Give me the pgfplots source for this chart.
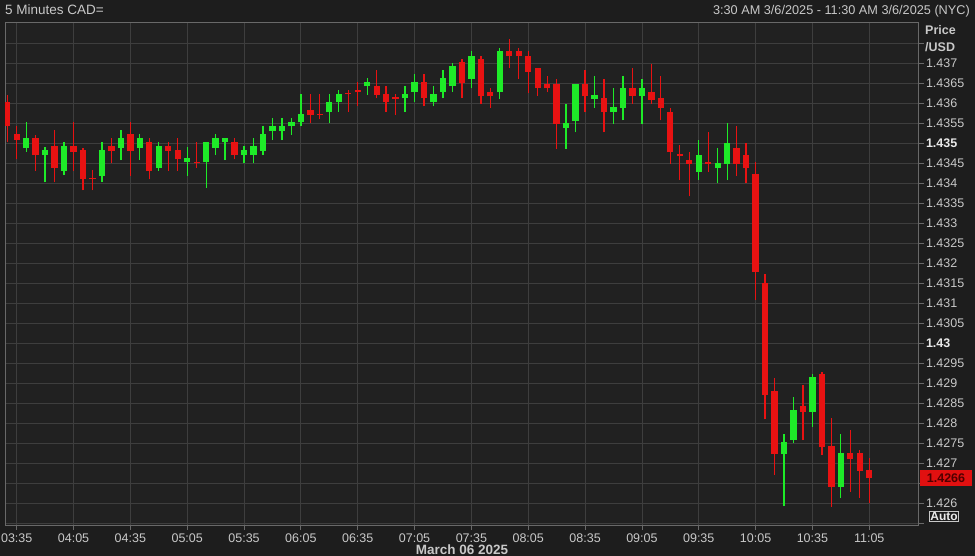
\documentclass[border=0pt]{standalone}
\usepackage{pgfplots}
\pgfplotsset{compat=1.18}
\usepackage{pgfplotstable}
\usepackage{fontspec}
\setmainfont{Liberation Sans}
\definecolor{bgc}{RGB}{29,29,29}
\definecolor{plotbg}{RGB}{33,33,33}
\definecolor{gridc}{RGB}{62,62,62}
\definecolor{framec}{RGB}{105,105,105}
\definecolor{txt}{RGB}{200,200,200}
\definecolor{txtb}{RGB}{235,235,235}
\definecolor{cup}{RGB}{30,235,40}
\definecolor{cdn}{RGB}{232,18,18}
\definecolor{lastbox}{RGB}{225,16,16}
\definecolor{lasttxt}{RGB}{80,0,0}

% i  O  H  L  C
\pgfplotstableread{
i O H L C
2 1.43488 1.43552 1.43479 1.43512
4 1.43471 1.43490 1.43402 1.43483
6 1.43431 1.43502 1.43421 1.43492
10 1.43418 1.43504 1.43402 1.43483
12 1.43488 1.43533 1.43458 1.43512
14 1.43489 1.43522 1.43458 1.43512
16 1.43439 1.43502 1.43431 1.43492
19 1.43452 1.43490 1.43418 1.43463
21 1.43452 1.43502 1.43389 1.43502
22 1.43489 1.43522 1.43471 1.43512
23 1.43502 1.43512 1.43458 1.43512
25 1.43471 1.43492 1.43450 1.43483
26 1.43471 1.43512 1.43450 1.43492
27 1.43481 1.43543 1.43471 1.43523
28 1.43531 1.43562 1.43508 1.43543
29 1.43531 1.43562 1.43508 1.43543
30 1.43542 1.43562 1.43521 1.43552
31 1.43552 1.43623 1.43542 1.43573
34 1.43579 1.43623 1.43550 1.43602
35 1.43602 1.43632 1.43579 1.43623
38 1.43642 1.43662 1.43621 1.43652
42 1.43612 1.43643 1.43579 1.43623
43 1.43629 1.43673 1.43602 1.43652
45 1.43602 1.43643 1.43592 1.43623
46 1.43629 1.43683 1.43612 1.43662
47 1.43642 1.43700 1.43629 1.43692
49 1.43660 1.43731 1.43637 1.43718
52 1.43627 1.43739 1.43610 1.43731
59 1.43538 1.43598 1.43486 1.43550
60 1.43556 1.43648 1.43527 1.43648
62 1.43610 1.43668 1.43589 1.43620
64 1.43577 1.43639 1.43548 1.43591
65 1.43589 1.43668 1.43557 1.43639
67 1.43618 1.43660 1.43548 1.43639
73 1.43428 1.43508 1.43408 1.43470
75 1.43437 1.43488 1.43400 1.43450
76 1.43449 1.43550 1.43408 1.43500
82 1.42723 1.42773 1.42593 1.42754
83 1.42758 1.42865 1.42752 1.42833
85 1.42829 1.42923 1.42792 1.42915
88 1.42642 1.42773 1.42613 1.42725
}\upcandles

\pgfplotstableread{
i O H L C
0 1.43603 1.43621 1.43502 1.43542
1 1.43523 1.43543 1.43460 1.43508
3 1.43512 1.43521 1.43431 1.43471
5 1.43492 1.43533 1.43402 1.43439
7 1.43492 1.43552 1.43431 1.43479
8 1.43483 1.43488 1.43382 1.43410
9 1.43414 1.43433 1.43382 1.43410
11 1.43492 1.43512 1.43450 1.43481
13 1.43523 1.43552 1.43418 1.43481
15 1.43503 1.43512 1.43410 1.43431
17 1.43492 1.43502 1.43431 1.43481
18 1.43483 1.43512 1.43431 1.43460
20 1.43454 1.43502 1.43439 1.43450
24 1.43503 1.43512 1.43460 1.43471
32 1.43583 1.43623 1.43550 1.43571
33 1.43574 1.43623 1.43560 1.43570
36 1.43626 1.43632 1.43579 1.43622
37 1.43632 1.43654 1.43592 1.43628
39 1.43642 1.43683 1.43612 1.43621
40 1.43623 1.43643 1.43579 1.43602
41 1.43615 1.43623 1.43571 1.43611
44 1.43652 1.43673 1.43592 1.43612
48 1.43702 1.43710 1.43612 1.43650
50 1.43710 1.43718 1.43598 1.43617
51 1.43628 1.43639 1.43589 1.43617
53 1.43731 1.43760 1.43687 1.43717
54 1.43731 1.43739 1.43660 1.43717
55 1.43718 1.43731 1.43625 1.43678
56 1.43689 1.43689 1.43618 1.43639
57 1.43647 1.43668 1.43627 1.43637
58 1.43647 1.43660 1.43485 1.43548
61 1.43647 1.43683 1.43577 1.43617
63 1.43612 1.43660 1.43527 1.43577
66 1.43639 1.43689 1.43598 1.43618
68 1.43628 1.43698 1.43598 1.43608
69 1.43612 1.43668 1.43557 1.43589
70 1.43578 1.43589 1.43449 1.43478
71 1.43473 1.43495 1.43408 1.43469
72 1.43458 1.43478 1.43367 1.43448
74 1.43453 1.43529 1.43428 1.43449
77 1.43488 1.43542 1.43418 1.43449
78 1.43471 1.43500 1.43400 1.43437
79 1.43423 1.43452 1.43108 1.43179
80 1.43152 1.43173 1.42810 1.42871
81 1.42882 1.42914 1.42671 1.42723
84 1.42844 1.42896 1.42758 1.42829
86 1.42923 1.42929 1.42721 1.42740
87 1.42743 1.42813 1.42592 1.42642
89 1.42725 1.42783 1.42629 1.42710
90 1.42725 1.42733 1.42613 1.42682
91 1.42683 1.42713 1.42600 1.42663
}\downcandles

\begin{document}
\begin{tikzpicture}
\fill[bgc] (0,0) rectangle (975bp,556bp);
\begin{axis}[
  at={(5bp,31bp)}, anchor=south west,
  width=913.5bp, height=503bp, scale only axis,
  xmin=-0.235, xmax=96.2, ymin=1.42546, ymax=1.43803,
  axis background/.style={fill=plotbg},
  axis line style={draw=framec, line width=0.8bp},
  grid=major, major grid style={draw=gridc, line width=0.8bp},
  tick align=outside, major tick length=5bp,
  tick style={draw=framec, line width=0.8bp},
  xtick pos=left, ytick pos=right, yticklabel pos=right,
  xtick={1,7,13,19,25,31,37,43,49,55,61,67,73,79,85,91},
  xticklabels={03:35,04:05,04:35,05:05,05:35,06:05,06:35,07:05,07:35,08:05,08:35,09:05,09:35,10:05,10:35,11:05},
  ytick={1.4255,1.426,1.4265,1.427,1.4275,1.428,1.4285,1.429,1.4295,1.43,1.4305,1.431,1.4315,1.432,1.4325,1.433,1.4335,1.434,1.4345,1.435,1.4355,1.436,1.4365,1.437,1.4375},
  yticklabels={,1.426,,1.427,1.4275,1.428,1.4285,1.429,1.4295,\textbf{\color{txtb}1.43},1.4305,1.431,1.4315,1.432,1.4325,1.433,1.4335,1.434,1.4345,\textbf{\color{txtb}1.435},1.4355,1.436,1.4365,1.437,},
  ticklabel style={font=\fontsize{12.5bp}{14bp}\selectfont, text=txt},
  yticklabel style={anchor=west, xshift=-1bp},
  candle/.style={draw=none, mark=none, forget plot,
    error bars/.cd, y dir=plus, y explicit, error mark=none},
]
% wicks
\addplot[candle, error bar style={draw=cup, solid, line width=1.3bp}]
  table[x=i, y=L, y error plus expr=\thisrow{H}-\thisrow{L}] {\upcandles};
\addplot[candle, error bar style={draw=cdn, solid, line width=1.3bp}]
  table[x=i, y=L, y error plus expr=\thisrow{H}-\thisrow{L}] {\downcandles};
% bodies
\addplot[candle, error bar style={draw=cup, solid, line width=6.3bp}]
  table[x=i, y=O, y error plus expr=\thisrow{C}-\thisrow{O}] {\upcandles};
\addplot[candle, error bar style={draw=cdn, solid, line width=6.3bp}]
  table[x=i, y=C, y error plus expr=\thisrow{O}-\thisrow{C}] {\downcandles};
\end{axis}
% header texts
\node[anchor=base west, inner sep=0, text=txt, font=\fontsize{13.5bp}{15bp}\selectfont] at (5bp,541bp) {5 Minutes CAD=};
\node[anchor=base east, inner sep=0, text=txt, font=\fontsize{12.7bp}{15bp}\selectfont] at (970bp,541bp) {3:30 AM 3/6/2025 - 11:30 AM 3/6/2025 (NYC)};
\node[anchor=base west, inner sep=0, text=txt, font=\bfseries\fontsize{12.5bp}{15bp}\selectfont] at (925bp,521bp) {Price};
\node[anchor=base west, inner sep=0, text=txt, font=\bfseries\fontsize{12.5bp}{15bp}\selectfont] at (925bp,504bp) {/USD};
% last price box
\node[fill=lastbox, text=lasttxt, inner sep=0, minimum width=52bp, minimum height=16bp, font=\bfseries\fontsize{12.5bp}{14bp}\selectfont] at (946bp,77.5bp) {1.4266};
% auto box
\node[draw=txt, fill=bgc, text=txtb, inner sep=1.2bp, line width=0.8bp, font=\bfseries\fontsize{12bp}{14bp}\selectfont] at (944bp,39.5bp) {Auto};
% date
\node[anchor=base, inner sep=0, text=txt, font=\bfseries\fontsize{13.5bp}{15bp}\selectfont] at (462bp,1.5bp) {March 06 2025};
\pgfresetboundingbox
\path (0,0) rectangle (975bp,556bp);
\end{tikzpicture}
\end{document}
